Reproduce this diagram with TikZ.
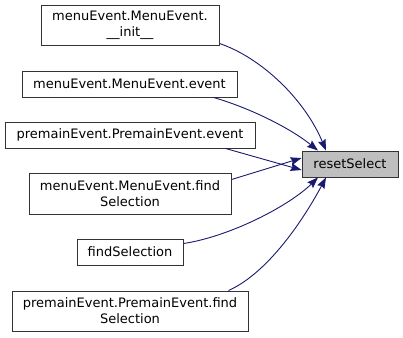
\documentclass[tikz,border=0pt]{standalone}
\usepackage{fontspec}
\setmainfont{DejaVu Sans}
\usetikzlibrary{arrows.meta}
\definecolor{edgeblue}{HTML}{191970}
\definecolor{hlgray}{HTML}{BFBFBF}
\definecolor{boxline}{HTML}{333333}
\tikzset{
  fn/.style={draw=boxline, line width=0.9pt, fill=white, inner sep=0pt, align=center,
             font=\fontsize{13}{16}\selectfont},
  calls/.style={draw=edgeblue, line width=0.9pt,
                -{Stealth[length=11pt,width=8pt,inset=1.5pt]}, edgeblue},
}
\begin{document}
\begin{tikzpicture}[x=1pt,y=-1pt]
\useasboundingbox (0,0) rectangle (403,337);
\node[fn, minimum width=178pt, minimum height=40pt] (init) at (130,25) {menuEvent.MenuEvent.\\\_\_init\_\_};
\node[fn, minimum width=215pt, minimum height=26pt] (mev) at (129.5,84) {menuEvent.MenuEvent.event};
\node[fn, minimum width=250pt, minimum height=26pt] (pev) at (130,135) {premainEvent.PremainEvent.event};
\node[fn, fill=hlgray, minimum width=96pt, minimum height=26pt] (rs) at (350,164) {resetSelect};
\node[fn, minimum width=202pt, minimum height=41pt] (mfs) at (130,193.5) {menuEvent.MenuEvent.find\\Selection};
\node[fn, minimum width=106pt, minimum height=26pt] (fs) at (130,252) {findSelection};
\node[fn, minimum width=236pt, minimum height=40pt] (pfs) at (130,311) {premainEvent.PremainEvent.find\\Selection};

\draw[calls] ([yshift=2pt]init.south east) .. controls (262,58) and (305,100) .. ([xshift=-24pt]rs.north);
\draw[calls] ([xshift=-24pt]mev.south east) .. controls (250,108) and (290,128) .. ([xshift=-32pt]rs.north);
\draw[calls] ([xshift=-30pt]pev.south east) -- ([yshift=-6pt]rs.west);
\draw[calls] ([yshift=-7pt]mfs.north east) -- ([yshift=6pt]rs.west);
\draw[calls] ([yshift=-5pt]fs.north east) .. controls (232,236) and (290,205) .. ([xshift=-32pt]rs.south);
\draw[calls] ([xshift=-20pt]pfs.north east) .. controls (270,272) and (306,215) .. ([xshift=-24pt]rs.south);
\end{tikzpicture}
\end{document}
